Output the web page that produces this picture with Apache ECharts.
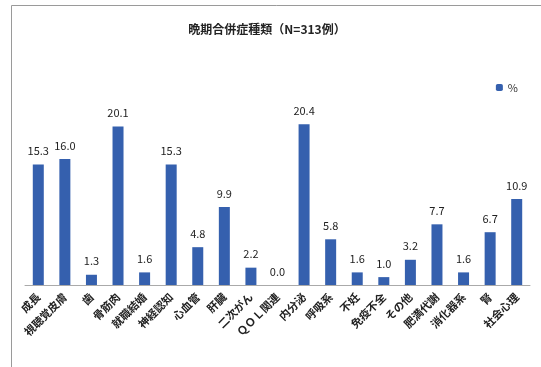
<!DOCTYPE html>
<html>
<head>
<meta charset="utf-8">
<script src="https://cdn.jsdelivr.net/npm/echarts@6/dist/echarts.min.js"></script>
<style>
  html, body { margin: 0; padding: 0; background: #fff; }
  #chart { width: 541px; height: 367px; }
</style>
</head>
<body>
<div id="chart"></div>
<script>
// Late complication types, percentage of cases (N=313)
const categories = ['成長', '視聴覚皮膚', '歯', '骨筋肉', '就職結婚', '神経認知', '心血管', '肝臓', '二次がん', 'ＱＯＬ関連', '内分泌', '呼吸系', '不妊', '免疫不全', 'その他', '肥満代謝', '消化器系', '腎', '社会心理'];
const percents = [15.3, 16.0, 1.3, 20.1, 1.6, 15.3, 4.8, 9.9, 2.2, 0.0, 20.4, 5.8, 1.6, 1.0, 3.2, 7.7, 1.6, 6.7, 10.9];
const seriesName = '%';
const titleText = '晩期合併症種類（N=313例）';

const font = '"Noto Sans CJK JP", "Noto Sans", sans-serif';
const barColor = '#3560ae';

const chart = echarts.init(document.getElementById('chart'));
chart.setOption({
  animation: false,
  backgroundColor: '#fff',
  graphic: [{
    type: 'rect',
    shape: { x: 11.5, y: 5.5, width: 560, height: 400 },
    style: { fill: 'none', stroke: '#9a9a9a', lineWidth: 1 },
    z: -1
  }],
  title: {
    text: titleText,
    left: 262,
    top: 18,
    textAlign: 'center',
    textStyle: { fontFamily: font, fontSize: 12, fontWeight: 'bold', color: '#222' }
  },
  legend: {
    right: 18,
    top: 77,
    itemWidth: 7,
    itemHeight: 7,
    itemGap: 3,
    textStyle: { fontFamily: font, fontSize: 11, color: '#333' },
    data: [seriesName]
  },
  grid: { left: 25, right: 11, top: 88, bottom: 82 },
  xAxis: {
    type: 'category',
    data: categories,
    axisLine: { lineStyle: { color: '#aaa', width: 1 } },
    axisTick: { show: false },
    axisLabel: {
      interval: 0,
      rotate: 45,
      margin: 10,
      fontFamily: font,
      fontSize: 11,
      fontWeight: 'bold',
      color: '#222'
    }
  },
  yAxis: {
    type: 'value',
    min: 0,
    max: 25,
    show: false,
    splitLine: { show: false }
  },
  series: [{
    name: seriesName,
    type: 'bar',
    data: percents,
    barWidth: 11,
    itemStyle: { color: barColor },
    label: {
      show: true,
      position: 'top',
      distance: 8,
      fontFamily: font,
      fontSize: 11,
      color: '#222',
      formatter: p => p.value.toFixed(1)
    }
  }]
});
</script>
</body>
</html>
